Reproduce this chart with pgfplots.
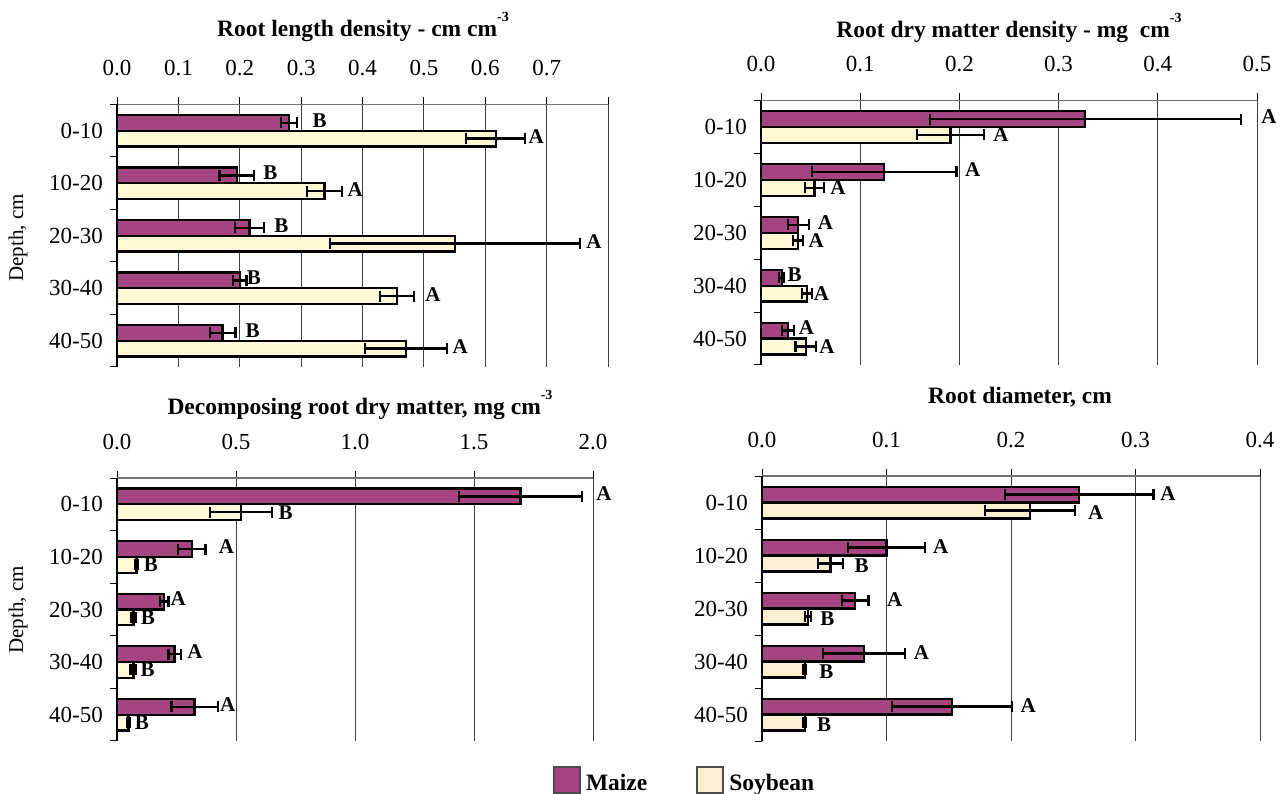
\documentclass[border=0pt]{standalone}
\usepackage{fontspec}
\setmainfont{Liberation Serif}
\usepackage{pgfplots}
\usepackage{pgfplotstable}
\pgfplotsset{compat=1.18}

\definecolor{maize}{HTML}{A64482}
\definecolor{soy}{HTML}{FFF9D6}
\definecolor{soyb}{HTML}{FAF0CF}

% depth class: 4 = 0-10 cm ... 0 = 40-50 cm; value; standard error
\pgfplotstableread{
c v e
4 0.280 0.013
3 0.195 0.028
2 0.216 0.024
1 0.200 0.011
0 0.172 0.021
}\rldMaize
\pgfplotstableread{
c v e
4 0.617 0.048
3 0.338 0.029
2 0.551 0.204
1 0.456 0.028
0 0.471 0.067
}\rldSoy
\pgfplotstableread{
c v e
4 0.327 0.157
3 0.124 0.073
2 0.0375 0.0105
1 0.021 0.0025
0 0.027 0.006
}\rdmMaize
\pgfplotstableread{
c v e
4 0.191 0.034
3 0.054 0.0097
2 0.0375 0.005
1 0.0466 0.005
0 0.045 0.0103
}\rdmSoy
\pgfplotstableread{
c v e
4 1.695 0.259
3 0.314 0.058
2 0.199 0.017
1 0.242 0.026
0 0.326 0.097
}\decMaize
\pgfplotstableread{
c v e
4 0.520 0.130
3 0.082 0.005
2 0.069 0.009
1 0.069 0.012
0 0.048 0.006
}\decSoy
\pgfplotstableread{
c v e
4 0.2548 0.0597
3 0.100 0.0307
2 0.0748 0.0107
1 0.082 0.033
0 0.1525 0.0484
}\diaMaize
\pgfplotstableread{
c v e
4 0.2154 0.036
3 0.055 0.0102
2 0.037 0.0025
1 0.0344 0.001
0 0.0344 0.001
}\diaSoy

\newcommand\lab[3]{\node[font=\fontsize{21}{24}\bfseries\selectfont] at (axis cs:#1,#2) {#3};}
\newcommand\sups[1]{\raisebox{0.62em}{\fontsize{14}{14}\bfseries\selectfont #1}}

\pgfplotsset{
  panel/.style={
    scale only axis, anchor=north west,
    xbar, bar width=0.3,
    ymin=-0.5, ymax=4.5, xmin=0,
    axis x line*=top, axis y line*=left,
    axis line style={-},
    x axis line style={draw=black!55, line width=1.4pt},
    y axis line style={draw=black, line width=1.6pt},
    tick align=outside,
    major tick length=7pt, minor tick length=7pt,
    ytick={0,1,2,3,4},
    yticklabels={40-50,30-40,20-30,10-20,0-10},
    minor ytick={-0.5,0.5,1.5,2.5,3.5,4.5},
    major y tick style={draw=none},
    minor y tick style={draw=black, line width=1pt},
    major x tick style={draw=black, line width=1pt},
    xmajorgrids, major grid style={draw=black!75, line width=0.9pt},
    tick label style={font=\fontsize{23}{26}\selectfont, inner sep=0pt},
    xticklabel style={yshift=21pt},
    yticklabel style={anchor=east, xshift=-7pt},
    clip=false,
    /pgfplots/error bars/error mark=|,
    /pgfplots/error bars/error bar style={line width=2.4pt, draw=black},
    /pgfplots/error bars/error mark options={line width=2.2pt, mark size=5.5pt, draw=black, rotate=0},
  },
  errs/.style={error bars/.cd, x dir=both, x explicit},
  mbar/.style={fill=maize, draw=black, line width=2.2pt, bar shift=0.15, forget plot, errs},
  sbar/.style={fill=#1, draw=black, line width=2.2pt, bar shift=-0.15, forget plot, errs},
}

\begin{document}
\begin{tikzpicture}
\useasboundingbox (0,0) rectangle (1281pt,793pt);

% ---------- Root length density ----------
\begin{axis}[panel, at={(117pt,688.5pt)}, width=491pt, height=262.5pt,
  xmax=0.8, xtick={0,0.1,0.2,0.3,0.4,0.5,0.6,0.7,0.8},
  xticklabels={0.0,0.1,0.2,0.3,0.4,0.5,0.6,0.7,{}}]
\addplot[mbar] table[x=v, y=c, x error=e] {\rldMaize};
\addplot[sbar=soy] table[x=v, y=c, x error=e] {\rldSoy};
\lab{0.330}{4.2}{B} \lab{0.683}{3.88}{A}
\lab{0.250}{3.2}{B} \lab{0.388}{2.88}{A}
\lab{0.268}{2.2}{B} \lab{0.777}{1.88}{A}
\lab{0.223}{1.2}{B} \lab{0.515}{0.88}{A}
\lab{0.221}{0.2}{B} \lab{0.559}{-0.12}{A}
\end{axis}

% ---------- Root dry matter density ----------
\begin{axis}[panel, at={(761pt,692.5pt)}, width=496pt, height=264.5pt,
  xmax=0.5, xtick={0,0.1,0.2,0.3,0.4,0.5},
  xticklabels={0.0,0.1,0.2,0.3,0.4,0.5}]
\addplot[mbar] table[x=v, y=c, x error=e] {\rdmMaize};
\addplot[sbar=soy] table[x=v, y=c, x error=e] {\rdmSoy};
\lab{0.512}{4.2}{A} \lab{0.242}{3.85}{A}
\lab{0.2135}{3.2}{A} \lab{0.0775}{2.85}{A}
\lab{0.065}{2.2}{A} \lab{0.0556}{1.85}{A}
\lab{0.034}{1.2}{B} \lab{0.061}{0.85}{A}
\lab{0.0458}{0.2}{A} \lab{0.0664}{-0.15}{A}
\end{axis}

% ---------- Decomposing root dry matter ----------
\begin{axis}[panel, at={(117pt,315pt)}, width=476pt, height=263pt,
  xmax=2.0, xtick={0,0.5,1.0,1.5,2.0},
  xticklabels={0.0,0.5,1.0,1.5,2.0}]
\addplot[mbar] table[x=v, y=c, x error=e] {\decMaize};
\addplot[sbar=soy] table[x=v, y=c, x error=e] {\decSoy};
\lab{2.046}{4.2}{A} \lab{0.708}{3.85}{B}
\lab{0.460}{3.2}{A} \lab{0.142}{2.85}{B}
\lab{0.257}{2.2}{A} \lab{0.130}{1.85}{B}
\lab{0.328}{1.2}{A} \lab{0.129}{0.85}{B}
\lab{0.465}{0.2}{A} \lab{0.105}{-0.15}{B}
\end{axis}

% ---------- Root diameter ----------
\begin{axis}[panel, at={(762pt,317pt)}, width=498pt, height=265pt,
  xmax=0.4, xtick={0,0.1,0.2,0.3,0.4},
  xticklabels={0.0,0.1,0.2,0.3,0.4},
  legend style={at={(-0.4197,-0.147)}, anchor=west, draw=none, fill=none,
    inner sep=0pt, outer sep=0pt, legend columns=2, column sep=5pt,
    /tikz/every even column/.append style={column sep=49pt},
    font=\fontsize{23.5}{28}\bfseries\selectfont, nodes={inner sep=0pt}}]
\addplot[mbar] table[x=v, y=c, x error=e] {\diaMaize};
\addplot[sbar=soyb] table[x=v, y=c, x error=e] {\diaSoy};
\lab{0.326}{4.17}{A} \lab{0.268}{3.81}{A}
\lab{0.1436}{3.17}{A} \lab{0.080}{2.81}{B}
\lab{0.1066}{2.17}{A} \lab{0.0525}{1.81}{B}
\lab{0.128}{1.17}{A} \lab{0.0518}{0.81}{B}
\lab{0.2138}{0.17}{A} \lab{0.0498}{-0.19}{B}
\addlegendimage{legend image code/.code={\draw[fill=maize,draw=black!70,line width=2pt] (0pt,-10pt) rectangle (26pt,16pt);}}
\addlegendentry{Maize}
\addlegendimage{legend image code/.code={\draw[fill=soyb,draw=black!70,line width=2pt] (0pt,-10pt) rectangle (26pt,16pt);}}
\addlegendentry{Soybean}
\end{axis}

% titles and axis labels
\begin{scope}[every node/.style={font=\fontsize{23.5}{28}\bfseries\selectfont}]
\node at (363pt,766pt) {Root length density - cm cm\sups{-3}};
\node at (1009pt,765pt) {Root dry matter density - mg\ \ cm\sups{-3}};
\node at (360pt,388pt) {Decomposing root dry matter, mg cm\sups{-3}};
\node at (1020pt,396pt) {Root diameter, cm};
\end{scope}
\node[rotate=90, font=\fontsize{21}{24}\selectfont] at (18pt,555pt) {Depth, cm};
\node[rotate=90, font=\fontsize{21}{24}\selectfont] at (18pt,183pt) {Depth, cm};
\end{tikzpicture}
\end{document}
